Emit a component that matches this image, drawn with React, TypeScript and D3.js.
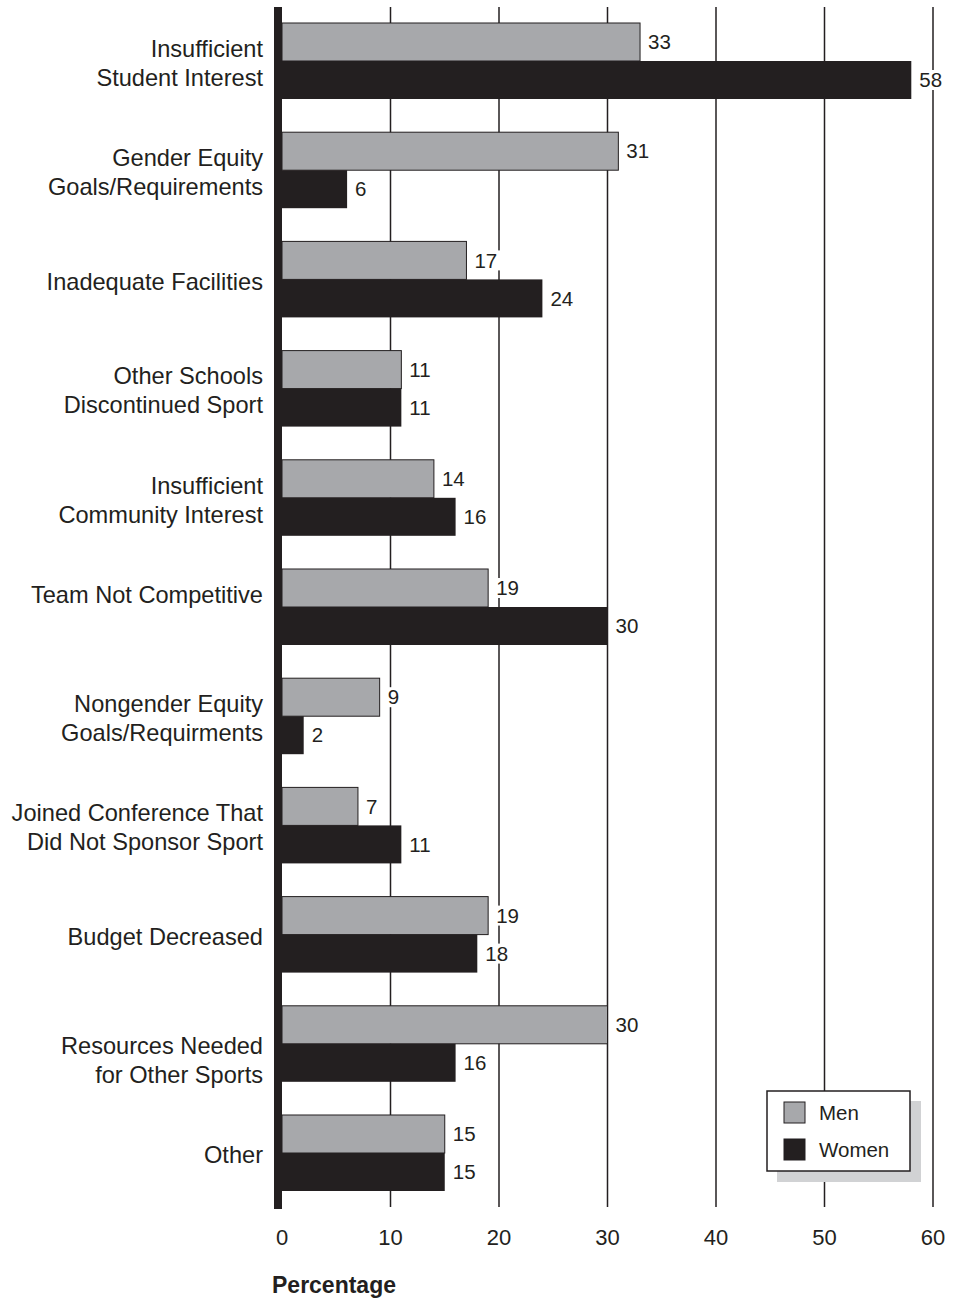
import React from "react";
import * as d3 from "d3";

const categories = [
  "Insufficient\nStudent Interest",
  "Gender Equity\nGoals/Requirements",
  "Inadequate Facilities",
  "Other Schools\nDiscontinued Sport",
  "Insufficient\nCommunity Interest",
  "Team Not Competitive",
  "Nongender Equity\nGoals/Requirments",
  "Joined Conference That\nDid Not Sponsor Sport",
  "Budget Decreased",
  "Resources Needed\nfor Other Sports",
  "Other",
];
const menValues = [33, 31, 17, 11, 14, 19, 9, 7, 19, 30, 15];
const womenValues = [58, 6, 24, 11, 16, 30, 2, 11, 18, 16, 15];
const xTicks = [0, 10, 20, 30, 40, 50, 60];
const seriesNames = ["Men", "Women"];

const W = 964;
const H = 1302;
const INK = "#231f20";
const MEN_FILL = "#a7a8ab";
const FONT = "'Liberation Sans', Arial, Helvetica, sans-serif";
const VAL_FS = 20.5;

function ValueLabel({ x, y, v }: { x: number; y: number; v: number }) {
  const w = String(v).length * 0.556 * VAL_FS;
  return (
    <g>
      <rect x={x - 3} y={y - 10} width={w + 6} height={20} fill="#fff" />
      <text x={x} y={y} dy="0.35em" fontSize={VAL_FS} fill={INK}>
        {v}
      </text>
    </g>
  );
}

export default function App() {
  const x = d3.scaleLinear().domain([0, 60]).range([282, 933]);
  const y = d3
    .scaleBand<number>()
    .domain(d3.range(categories.length))
    .range([23, 1191])
    .paddingInner(0.304)
    .paddingOuter(0);
  const bw = y.bandwidth();
  const half = bw / 2;
  const labelShift: Record<number, number> = { 5: -14, 9: 14 };

  return (
    <svg
      width={W}
      height={H}
      style={{ position: "absolute", left: 0, top: 0, background: "#fff" }}
      fontFamily={FONT}
    >
      {/* gridlines */}
      {xTicks.slice(1).map((t) => (
        <line key={t} x1={x(t)} x2={x(t)} y1={7} y2={1207} stroke={INK} strokeWidth={1.5} />
      ))}
      {/* bars */}
      {categories.map((c, i) => {
        const y0 = y(i)!;
        return (
          <g key={c}>
            <rect
              x={x(0)}
              y={y0}
              width={x(menValues[i]) - x(0)}
              height={half}
              fill={MEN_FILL}
              stroke={INK}
              strokeWidth={1}
            />
            <rect
              x={x(0)}
              y={y0 + half}
              width={x(womenValues[i]) - x(0)}
              height={half}
              fill={INK}
            />
            <ValueLabel x={x(menValues[i]) + 8} y={y0 + half / 2} v={menValues[i]} />
            <ValueLabel x={x(womenValues[i]) + 8} y={y0 + half + half / 2} v={womenValues[i]} />
          </g>
        );
      })}
      {/* category labels */}
      {categories.map((c, i) => {
        const lines = c.split("\n");
        const center = y(i)! + half + 2 + (labelShift[i] || 0);
        const lh = 29;
        const start = center - ((lines.length - 1) * lh) / 2;
        return (
          <text key={c} textAnchor="end" fontSize={23.6} fill={INK}>
            {lines.map((l, k) => (
              <tspan key={k} x={263} y={start + k * lh} dy="0.35em">
                {l}
              </tspan>
            ))}
          </text>
        );
      })}
      {/* thick axis */}
      <rect x={274} y={7} width={8} height={1202} fill={INK} />
      {/* tick labels */}
      {xTicks.map((t) => (
        <text key={t} x={x(t)} y={1245} textAnchor="middle" fontSize={22} fill={INK}>
          {t}
        </text>
      ))}
      <text x={272} y={1293} fontSize={23} fontWeight="bold" fill={INK}>
        Percentage
      </text>
      {/* legend */}
      <rect x={777} y={1101} width={144} height={81} fill="#d1d2d4" />
      <rect x={767} y={1091} width={143} height={80} fill="#fff" stroke={INK} strokeWidth={1.5} />
      {seriesNames.map((s, k) => (
        <g key={s}>
          <rect
            x={784}
            y={1102 + k * 37}
            width={21}
            height={21}
            fill={k === 0 ? MEN_FILL : INK}
            stroke={INK}
            strokeWidth={1}
          />
          <text x={819} y={1112.5 + k * 37} dy="0.35em" fontSize={20.5} fill={INK}>
            {s}
          </text>
        </g>
      ))}
    </svg>
  );
}
